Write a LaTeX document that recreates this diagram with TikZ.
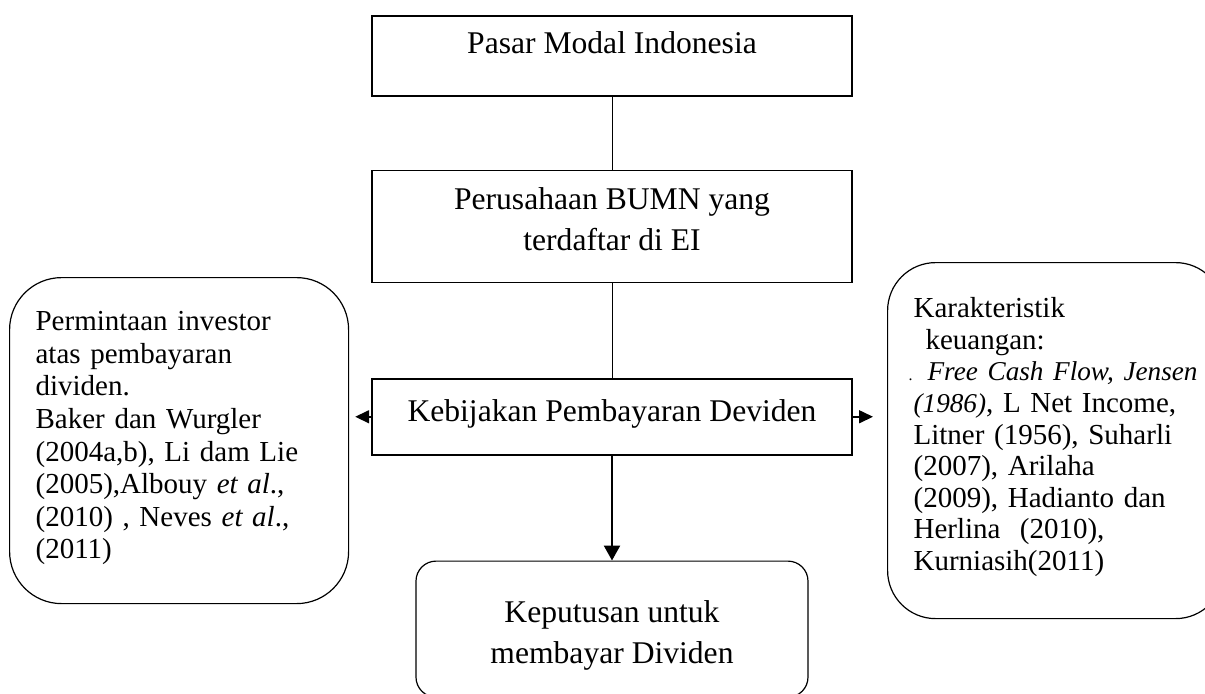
\documentclass[tikz,border=0pt]{standalone}
\usepackage{fontspec}
\setmainfont{Liberation Serif}
\usetikzlibrary{positioning, arrows.meta}
\tikzset{
  flowbox/.style={
    rectangle, draw, line width=0.75pt, minimum width=240pt,
    inner xsep=0pt, inner ysep=0pt, align=center,
    font=\fontsize{15.8}{20.5}\selectfont
  },
  sidebox/.style={
    rectangle, draw, line width=0.6pt, rounded corners=26pt,
    inner xsep=13pt, inner ysep=0pt, align=left,
    font=\fontsize{14.5}{16.3}\selectfont
  },
  link/.style={draw, line width=0.4pt},
  flow/.style={draw, -{Triangle[length=7.5pt,width=8pt]}, line width=1.2pt},
  side arrow/.style={draw, -{Triangle[length=7pt,width=6.5pt]}, line width=0.8pt},
}
\begin{document}
\begin{tikzpicture}[x=0.5pt, y=-0.5pt]
  \useasboundingbox (0,0) rectangle (1205,693);
  % main column
  \node[flowbox, anchor=north, text height=19pt, text depth=21pt] (pasar) at (612,15) {Pasar Modal Indonesia};
  \node[flowbox, below=36.5pt of pasar, text height=40pt, text depth=16pt] (bumn) {Perusahaan BUMN yang\\terdaftar di EI};
  \node[flowbox, below=47.5pt of bumn, text height=21.5pt, text depth=16.5pt] (kebijakan) {Kebijakan Pembayaran Deviden};
  \node[flowbox, rounded corners=10pt, line width=0.6pt, minimum width=196pt, below=52.5pt of kebijakan,
        text height=51pt, text depth=17pt] (keputusan) {Keputusan untuk\\membayar Dividen};
  % side boxes
  \node[sidebox, anchor=north west, text width=143.5pt, text height=26.5pt, text depth=136.5pt] (permintaan) at (9,277)
    {Permintaan investor\\
     atas pembayaran\\
     dividen.\\
     Baker dan Wurgler\\
     (2004a,b), Li dam Lie\\
     (2005),Albouy \textit{et al}.,\\
     (2010) , Neves \textit{et al}.,\\
     (2011)};
  \node[sidebox, rounded corners=24pt, anchor=north west, text width=142pt, text height=27.5pt, text depth=150.5pt,
        font=\fontsize{14.5}{15.8}\selectfont] (karakteristik) at (887,262)
    {Karakteristik\\
     \hspace*{6pt}keuangan:\\
     \leavevmode\llap{{\footnotesize.}\hspace{0.5pt}}\hspace*{7pt}{\fontsize{13.6}{15.8}\selectfont\textit{Free~Cash~Flow,~Jensen}}\\
     {\fontsize{13.6}{15.8}\selectfont\textit{(1986)}},~L~Net~Income,\\
     Litner (1956), Suharli\\
     (2007), Arilaha\\
     (2009), Hadianto dan\\
     Herlina\ \ (2010),\\
     Kurniasih(2011)};
  % connectors
  \draw[link] (pasar) -- (bumn);
  \draw[link] (bumn) -- (kebijakan);
  \draw[flow] (kebijakan) -- (keputusan);
  \draw[side arrow, shorten >=3pt] (kebijakan.west) -- (kebijakan.west -| permintaan.east);
  \draw[side arrow, shorten >=7pt] (kebijakan.east) -- (kebijakan.east -| karakteristik.west);
\end{tikzpicture}
\end{document}
